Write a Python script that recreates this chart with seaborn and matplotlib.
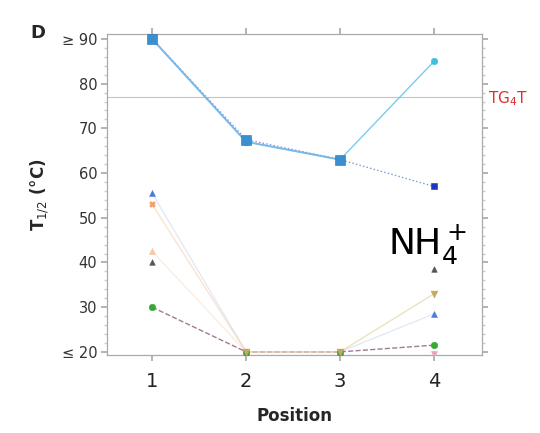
import numpy as np
import pandas as pd
import matplotlib
matplotlib.use("Agg")
import matplotlib.pyplot as plt
import seaborn as sns

positions = [1, 2, 3, 4]
s_cyan = [90, 67, 63, 85]
s_blue_sq = [90, 67.5, 63, 57]
s_blue_tri = [55.5, 20, 20, 28.5]
s_orange_x = [53, 20, 20, np.nan]
s_peach_tri = [42.5, 20, 20, np.nan]
s_gray_tri = [40, 20, 20, 38.5]
s_green = [30, 20, 20, 21.5]
s_pink = [np.nan, np.nan, np.nan, 19.5]
s_yellow = [np.nan, 20, 20, 33]
tg4t_value = 77
ytick_vals = [20, 30, 40, 50, 60, 70, 80, 90]
ytick_labels = ["≤ 20", "30", "40", "50", "60", "70", "80", "≥ 90"]

sns.set_theme(style="white")
plt.rcParams['font.family'] = ['DejaVu Sans']

fig = plt.figure(figsize=(5.4, 4.33), dpi=100)
ax = fig.add_axes([107/540, 1 - 355/433, (482-107)/540, (355-34)/433])

# (values, marker colour, marker, linestyle, line colour, line alpha, marker size)
series = [
    (s_cyan, "#3cc0e0", "o", "-", "#6cc6ea", 0.9, 22),
    (s_blue_sq, "#2233bb", "s", ":", "#5a7fd0", 0.8, 24),
    (s_blue_tri, "#4a7ae0", "^", "-", "#c8d4f0", 0.5, 18),
    (s_orange_x, "#f0a060", "X", "-", "#f6c8a0", 0.5, 18),
    (s_peach_tri, "#f5c8a8", "^", "-", "#fbe0cc", 0.6, 20),
    (s_gray_tri, "#555555", "^", "-", "#555555", 0.0, 16),
    (s_green, "#33aa33", "o", "--", "#8a5a7a", 0.8, 22),
    (s_pink, "#f0a0b0", "v", "-", "#f0a0b0", 0.0, 18),
    (s_yellow, "#c8a860", "v", "-", "#e6dcb0", 0.8, 24),
]

for vals, col, mk, ls, lc, lalpha, ms in series:
    if lalpha > 0:
        df = pd.DataFrame({"Position": positions, "T": vals})
        sns.lineplot(data=df, x="Position", y="T", ax=ax, color=lc, linestyle=ls,
                     linewidth=1.0, alpha=lalpha, sort=False)

df_c = pd.DataFrame({"Position": positions[:3], "T": s_cyan[:3]})
sns.lineplot(data=df_c, x="Position", y="T", ax=ax, color="#7ab8e8", linewidth=1.4, alpha=0.9)

for i, (vals, col, mk, ls, lc, lalpha, ms) in enumerate(series):
    df = pd.DataFrame({"Position": positions, "T": vals})
    sns.scatterplot(data=df, x="Position", y="T", ax=ax, color=col, marker=mk,
                    s=ms, edgecolor=col, linewidth=0.4, zorder=5 + i)

df_sq = pd.DataFrame({"Position": positions[:3], "T": s_blue_sq[:3]})
sns.scatterplot(data=df_sq, x="Position", y="T", ax=ax, color="#3a8fd0", marker="s",
                s=45, edgecolor="#2a6fc0", linewidth=0.4, zorder=20)

ax.axhline(tg4t_value, color="#c4c4c4", linewidth=0.8, zorder=1)

ax.set_xlim(0.52, 4.51)
ax.set_ylim(19.3, 91.1)
ax.set_xticks(positions)
ax.set_xticklabels([str(p) for p in positions], fontsize=14, color="#222222")
ax.set_yticks(ytick_vals)
ax.set_yticklabels(ytick_labels, fontsize=10.5, color="#333333")
ax.set_yticks(np.arange(20, 91, 2), minor=True)
ax.tick_params(axis="y", which="major", direction="out", length=4, color="#aaaaaa",
               left=True, right=True, pad=3)
ax.tick_params(axis="y", which="minor", direction="out", length=2, color="#cccccc",
               left=True, right=True)
ax.tick_params(axis="x", which="major", direction="out", length=4, color="#aaaaaa",
               bottom=True, top=True, pad=8)
for sp in ax.spines.values():
    sp.set_color("#aaaaaa")
    sp.set_linewidth(0.9)

ax.set_xlabel("Position", fontsize=12, fontweight="bold", labelpad=12)
ax.set_ylabel("T$_{1/2}$ (°C)", fontsize=12, fontweight="bold", labelpad=8)

fig.text(30/540, 1 - 33/433, "D", fontsize=13, fontweight="bold", va="center", ha="left")
fig.text(488/540, 1 - 99/433, "TG$_4$T", fontsize=11, color="#e03030", va="center", ha="left")
fig.text(388/540, 1 - 245/433, "NH$_4^+$", fontsize=26, color="black", va="center", ha="left")

fig.savefig("out.png", dpi=100)
